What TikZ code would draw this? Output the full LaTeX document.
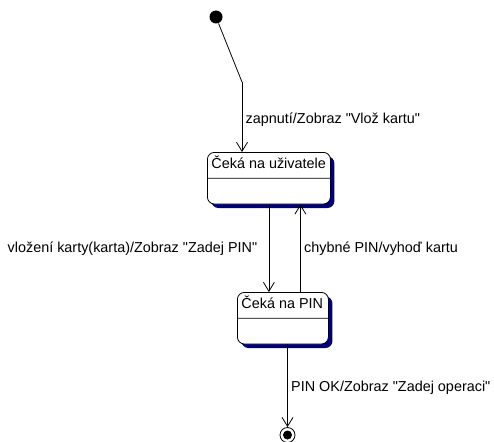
\documentclass[tikz,border=0pt]{standalone}
\usepackage{fontspec}
\setmainfont{Liberation Sans}[Ligatures=TeXOff]
\usetikzlibrary{arrows.meta, shapes.multipart, shadows}
\definecolor{navy}{RGB}{0,0,120}

\begin{document}
\begin{tikzpicture}[x=1pt, y=-1pt, line width=0.8pt, >={Straight Barb[length=9pt,width=11pt]},
    every node/.style={font=\fontsize{14.4}{16}\selectfont},
    state node/.style={rectangle split, rectangle split parts=2, draw, rounded corners=7pt, fill=white,
        rectangle split part align=left, text height=10pt, text depth=3pt, inner xsep=4pt, inner ysep=6pt,
        rectangle split empty part height=10pt, rectangle split empty part depth=3pt,
        drop shadow={shadow xshift=4pt, shadow yshift=-4pt, fill=navy, opacity=1}},
    init node/.style={circle, fill=black, minimum size=13pt, inner sep=0pt},
    final node/.style={circle, draw, minimum size=15pt, inner sep=0pt,
        path picture={\fill (path picture bounding box.center) circle (4.5pt);}}]
    \useasboundingbox (0,0) rectangle (494,441);

        \node[init node] (start) at (216,17) {};
        \coordinate (bend) at (242,82);
        \node[state node, anchor=north west, minimum width=123pt] (waituser) at (207,152) {Čeká na uživatele \nodepart{two}};
        \node[state node, anchor=north west, minimum width=91pt] (waitpin) at (237,292) {Čeká na PIN \nodepart{two}};
        \node[final node] (end) at (287.5,435) {};

        \path[->]
        (start) edge[-] (bend)
        (bend) edge node[right, pos=0.54] {zapnutí/Zobraz "Vlož kartu"} (bend |- waituser.north)
        (waituser.south) edge node[left=8pt] {vložení karty(karta)/Zobraz "Zadej PIN"} (waituser.south |- waitpin.north)
        ([xshift=31.5pt]waituser.south |- waitpin.north) edge node[right] {chybné PIN/vyhoď kartu} ([xshift=31.5pt]waituser.south)
        (waitpin.south -| end) edge node[right, pos=0.53] {PIN OK/Zobraz "Zadej operaci"} (end);

    \end{tikzpicture}
\end{document}
